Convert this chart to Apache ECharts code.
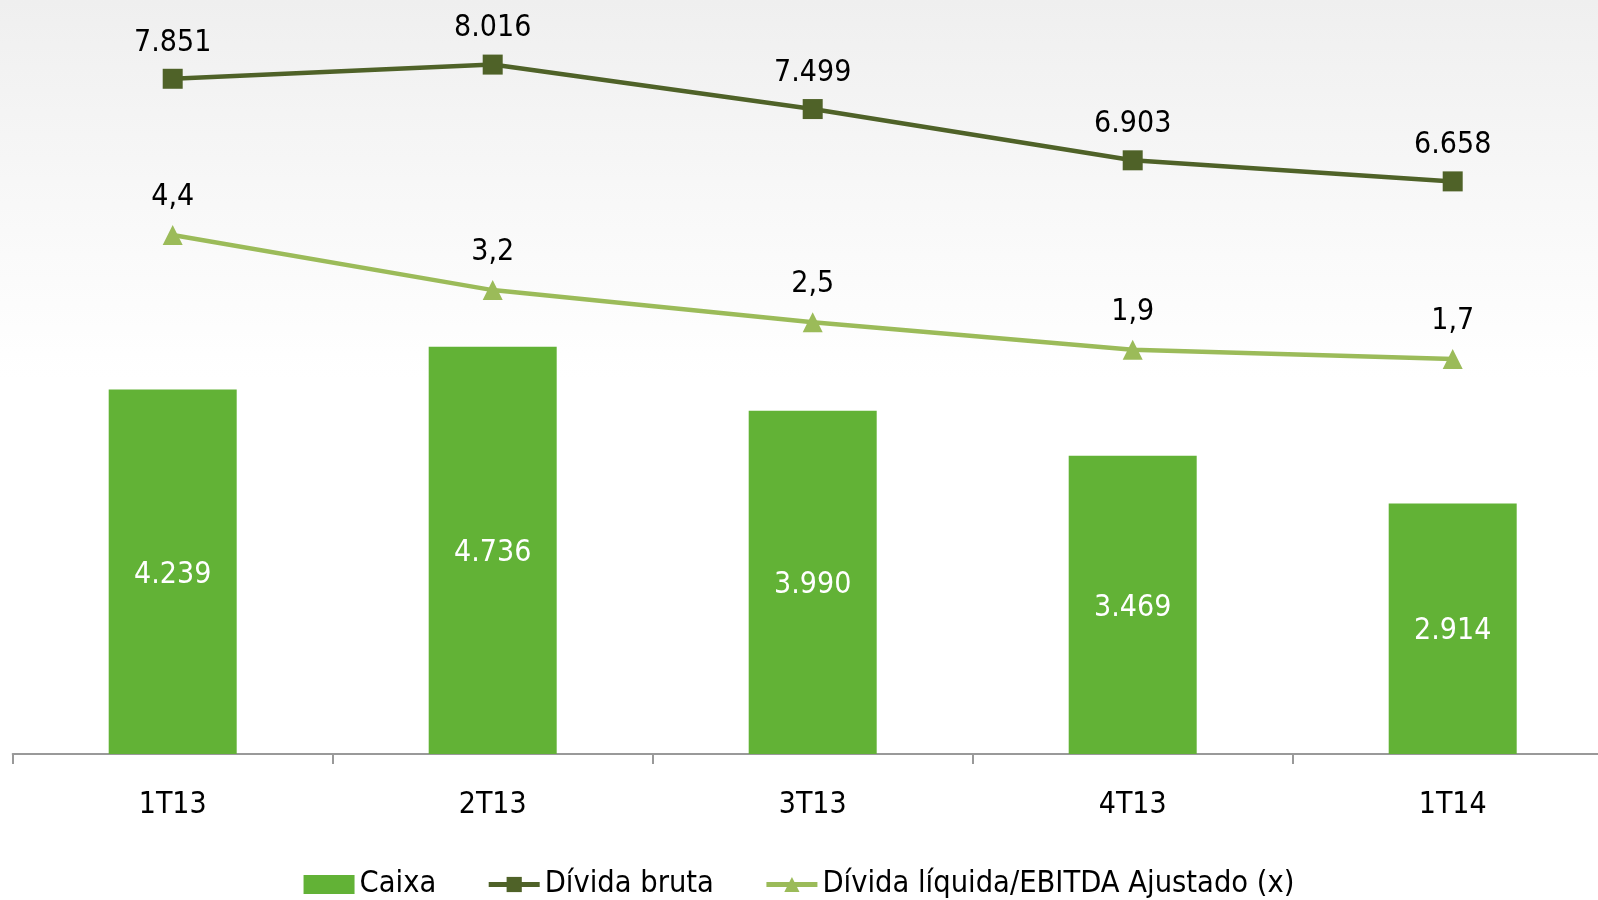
<!DOCTYPE html>
<html>
<head>
<meta charset="utf-8">
<script src="https://cdn.jsdelivr.net/npm/echarts@6/dist/echarts.min.js"></script>
<style>
html,body{margin:0;padding:0;background:#fff;}
#chart{width:1598px;height:900px;}
</style>
</head>
<body>
<div id="chart"></div>
<script>
const categories = ['1T13', '2T13', '3T13', '4T13', '1T14'];
const caixa = [4239, 4736, 3990, 3469, 2914];
const dividaBruta = [7851, 8016, 7499, 6903, 6658];
const dividaEbitda = [4.4, 3.2, 2.5, 1.9, 1.7];
const seriesNames = ['Caixa', 'Dívida bruta', 'Dívida líquida/EBITDA Ajustado (x)'];

const FONT = '"DejaVu Sans Condensed", "DejaVu Sans", sans-serif';
function fmtThousands(v) {
  return String(v).replace(/\B(?=(\d{3})+(?!\d))/g, '.');
}
function fmtDecimal(v) {
  return v.toFixed(1).replace('.', ',');
}

const chart = echarts.init(document.getElementById('chart'), null, {renderer: 'canvas'});
chart.setOption({
  animation: false,
  backgroundColor: '#ffffff',
  graphic: [{
    type: 'rect',
    z: -10,
    silent: true,
    shape: {x: 0, y: 0, width: 1598, height: 900},
    style: {
      fill: new echarts.graphic.LinearGradient(0, 0, 0, 1, [
        {offset: 0, color: '#efefef'},
        {offset: 0.2, color: '#f7f7f7'},
        {offset: 0.42, color: '#ffffff'},
        {offset: 1, color: '#ffffff'}
      ])
    }
  }],
  textStyle: {fontFamily: FONT},
  grid: {left: 12.7, top: 0, width: 1600, height: 754, outerBoundsMode: 'none', containLabel: false},
  legend: {
    top: 864,
    left: 'center',
    itemWidth: 51,
    itemHeight: 19,
    itemGap: 50,
    textStyle: {fontFamily: FONT, fontSize: 30.5, color: '#000'},
    data: [
      {name: seriesNames[0], icon: 'rect'},
      {name: seriesNames[1], lineStyle: {width: 5}},
      {name: seriesNames[2], lineStyle: {width: 5}}
    ]
  },
  xAxis: {
    type: 'category',
    data: categories,
    boundaryGap: true,
    axisLine: {lineStyle: {color: '#999999', width: 2}},
    axisTick: {show: true, length: 10, lineStyle: {color: '#999999', width: 2}},
    axisLabel: {fontFamily: FONT, fontSize: 30, color: '#000', margin: 33, lineHeight: 36}
  },
  yAxis: [
    {type: 'value', min: 0, max: 8767, show: false, splitLine: {show: false}},
    {type: 'value', min: -6.906, max: 9.52, show: false, splitLine: {show: false}}
  ],
  series: [
    {
      name: seriesNames[0],
      type: 'bar',
      yAxisIndex: 0,
      data: caixa,
      barWidth: '40%',
      itemStyle: {color: '#62b236'},
      label: {
        show: true, position: 'inside', color: '#ffffff',
        fontFamily: FONT, fontSize: 30, offset: [0, 3],
        formatter: p => fmtThousands(p.value)
      }
    },
    {
      name: seriesNames[1],
      type: 'line',
      yAxisIndex: 0,
      data: dividaBruta,
      symbol: 'rect',
      symbolSize: 20,
      lineStyle: {color: '#4f6228', width: 4.5},
      itemStyle: {color: '#4f6228'},
      label: {
        show: true, position: 'top', distance: 8, color: '#000',
        fontFamily: FONT, fontSize: 30, lineHeight: 36,
        formatter: p => fmtThousands(p.value)
      },
      z: 3
    },
    {
      name: seriesNames[2],
      type: 'line',
      yAxisIndex: 1,
      data: dividaEbitda,
      symbol: 'triangle',
      symbolSize: 20,
      lineStyle: {color: '#9bbb59', width: 4.5},
      itemStyle: {color: '#9bbb59'},
      label: {
        show: true, position: 'top', distance: 10, color: '#000',
        fontFamily: FONT, fontSize: 30, lineHeight: 36,
        formatter: p => fmtDecimal(p.value)
      },
      z: 3
    }
  ]
});
</script>
</body>
</html>
